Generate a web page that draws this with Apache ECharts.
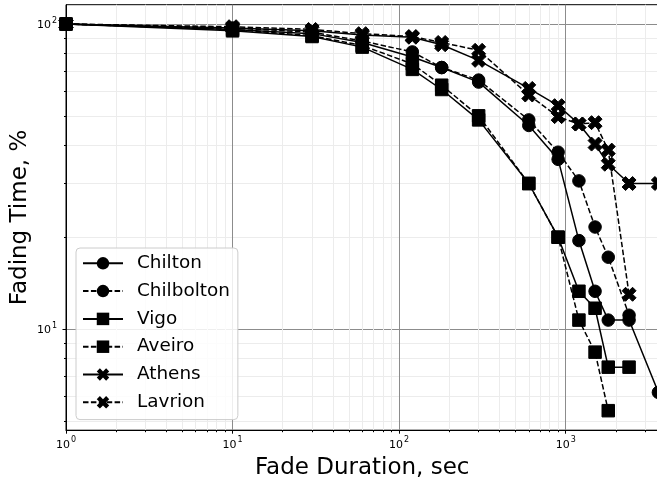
<!DOCTYPE html>
<html>
<head>
<meta charset="utf-8">
<script src="https://cdn.jsdelivr.net/npm/echarts@6/dist/echarts.min.js"></script>
<style>html,body{margin:0;padding:0;background:#fff}#c{width:657px;height:480px}</style>
</head>
<body>
<div id="c"></div>
<script>
const durations = [1, 10, 30, 60, 120, 180, 300, 600, 900, 1200, 1500, 1800, 2400, 3600];
const chilton    = [100, 96, 93, 87, 78, 72, 64.5, 46.5, 36, 19.5, 13.3, 10.7, 10.7, 6.2];
const chilbolton = [100, 97, 94, 88, 81, 72, 65.5, 48.5, 38, 30.6, 21.6, 17.2, 11.1];
const vigo       = [100, 95, 91, 84, 71, 61, 48.5, 30, 20, 13.3, 11.7, 7.5, 7.5];
const aveiro     = [100, 96, 91.5, 85, 74, 63, 50, 30, 20, 10.7, 8.4, 5.4];
const athens     = [100, 97, 95, 92, 90.5, 85.5, 76, 61.5, 54, 47, 40.4, 34.7, 30, 30];
const lavrion    = [100, 98, 96, 93, 91, 87, 82, 58.5, 49.7, 47, 47.5, 38.6, 13];

const xMajor = [1, 10, 100, 1000];
const xMinor = [2,3,4,5,6,7,8,9,20,30,40,50,60,70,80,90,200,300,400,500,600,700,800,900,2000,3000];
const yMajor = [10, 100];
const yMinor = [5,6,7,8,9,20,30,40,50,60,70,80,90];

const X_PATH = 'path://M0 6L2 8L4 6L6 8L8 6L6 4L8 2L6 0L4 2L2 0L0 2L2 4Z';
const DASH = [5.5, 2.4];

function pairs(vals) { return vals.map((v, i) => [durations[i], v]); }

const seriesDefs = [
  { name: 'Chilton', data: chilton, symbol: 'circle', size: 12.5, dash: 'solid' },
  { name: 'Chilbolton', data: chilbolton, symbol: 'circle', size: 12.5, dash: DASH },
  { name: 'Vigo', data: vigo, symbol: 'rect', size: 12.5, dash: 'solid' },
  { name: 'Aveiro', data: aveiro, symbol: 'rect', size: 12.5, dash: DASH },
  { name: 'Athens', data: athens, symbol: X_PATH, size: 14, dash: 'solid' },
  { name: 'Lavrion', data: lavrion, symbol: X_PATH, size: 14, dash: DASH }
];

const supLabel = {
  formatter: v => '{b|10}{s|' + Math.round(Math.log10(v)) + '}',
  rich: {
    b: { fontSize: 11, fontFamily: 'DejaVu Sans', color: '#000', lineHeight: 14, verticalAlign: 'bottom' },
    s: { fontSize: 8, fontFamily: 'DejaVu Sans', color: '#000', lineHeight: 14, verticalAlign: 'top', padding: [0, 0, 4, 1] }
  }
};

const chart = echarts.init(document.getElementById('c'), null, { renderer: 'canvas' });
chart.setOption({
  animation: false,
  textStyle: { fontFamily: 'DejaVu Sans' },
  grid: { left: 66, top: 4.7, width: 592.4, height: 425.5, containLabel: false, outerBoundsMode: 'none', show: true, borderColor: '#000', borderWidth: 1, backgroundColor: 'transparent' },
  xAxis: [
    {
      type: 'log', logBase: 10, min: 1, max: 3600, position: 'bottom',
      name: 'Fade Duration, sec', nameLocation: 'middle', nameGap: 26, nameMoveOverlap: false,
      nameTextStyle: { fontSize: 23, color: '#000', fontFamily: 'DejaVu Sans' },
      axisLine: { show: true, lineStyle: { color: '#000', width: 1 } },
      axisTick: { show: true, inside: false, length: 3.5, lineStyle: { color: '#000' }, customValues: xMajor },
      axisLabel: Object.assign({ show: true, margin: 6, customValues: xMajor }, supLabel),
      splitLine: { show: true, lineStyle: { color: '#8c8c8c', width: 1 } },
      minorTick: { show: false }, minorSplitLine: { show: false }
    },
    {
      type: 'log', logBase: 10, min: 1, max: 3600, position: 'bottom',
      axisLine: { show: false },
      axisTick: { show: true, inside: false, length: 2, lineStyle: { color: '#000' }, customValues: xMinor },
      axisLabel: { show: false },
      splitLine: { show: true, lineStyle: { color: '#ececec', width: 1 } }
    }
  ],
  yAxis: [
    {
      type: 'log', logBase: 10, min: 4.66, max: 115.7, position: 'left',
      name: 'Fading Time, %', nameLocation: 'middle', nameGap: 34, nameMoveOverlap: false,
      nameTextStyle: { fontSize: 23, color: '#000', fontFamily: 'DejaVu Sans' },
      axisLine: { show: true, lineStyle: { color: '#000', width: 1 } },
      axisTick: { show: true, inside: false, length: 3.5, lineStyle: { color: '#000' }, customValues: yMajor },
      axisLabel: Object.assign({ show: true, margin: 9, customValues: yMajor }, supLabel),
      splitLine: { show: true, lineStyle: { color: '#8c8c8c', width: 1 } },
      minorTick: { show: false }, minorSplitLine: { show: false }
    },
    {
      type: 'log', logBase: 10, min: 4.66, max: 115.7, position: 'left',
      axisLine: { show: false },
      axisTick: { show: true, inside: false, length: 2, lineStyle: { color: '#000' }, customValues: yMinor },
      axisLabel: { show: false },
      splitLine: { show: true, lineStyle: { color: '#ececec', width: 1 } }
    }
  ],
  legend: {
    orient: 'vertical', left: 76, top: 248,
    padding: [5.3, 8, 7.3, 6],
    itemWidth: 40, itemHeight: 15.6, itemGap: 7.8,
    backgroundColor: 'rgba(255,255,255,0.85)', borderColor: '#cccccc', borderWidth: 1, borderRadius: 4,
    textStyle: { fontSize: 18.4, color: '#000', fontFamily: 'DejaVu Sans', lineHeight: 20, padding: [0, 0, 0, 9] },
    data: seriesDefs.map(s => s.name)
  },
  series: seriesDefs.map(s => ({
    name: s.name, type: 'line', xAxisIndex: 0, yAxisIndex: 0,
    data: pairs(s.data),
    symbol: s.symbol, symbolSize: s.size, showSymbol: true,
    itemStyle: { color: '#000', borderColor: '#000' },
    lineStyle: { color: '#000', width: 1.5, type: s.dash },
    emphasis: { disabled: true },
    clip: true
  }))
});
</script>
</body>
</html>
